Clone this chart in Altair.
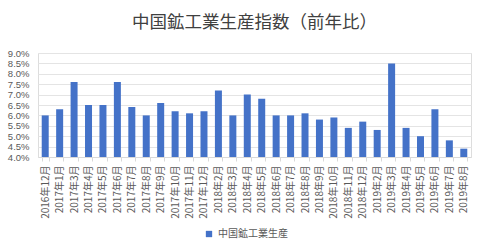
import altair as alt
import pandas as pd

months = ["2016年12月", "2017年1月", "2017年3月", "2017年4月", "2017年5月", "2017年6月",
          "2017年7月", "2017年8月", "2017年9月", "2017年10月", "2017年11月", "2017年12月",
          "2018年2月", "2018年3月", "2018年4月", "2018年5月", "2018年6月", "2018年7月",
          "2018年8月", "2018年9月", "2018年10月", "2018年11月", "2018年12月",
          "2019年2月", "2019年3月", "2019年4月", "2019年5月", "2019年6月", "2019年7月", "2019年8月"]
values = [6.0, 6.3, 7.6, 6.5, 6.5, 7.6, 6.4, 6.0, 6.6, 6.2, 6.1, 6.2,
          7.2, 6.0, 7.0, 6.8, 6.0, 6.0, 6.1, 5.8, 5.9, 5.4, 5.7,
          5.3, 8.5, 5.4, 5.0, 6.3, 4.8, 4.4]
series_name = "中国鉱工業生産"

df = pd.DataFrame({"month": months, "value": [v / 100 for v in values], "series": series_name})

font = "Noto Sans CJK JP"

chart = alt.Chart(df).mark_bar(size=7, clip=True).encode(
    x=alt.X("month:N", sort=months, title=None,
            scale=alt.Scale(paddingInner=0.5, paddingOuter=0.25),
            axis=alt.Axis(labelAngle=-90, labelFontSize=10, labelColor="#595959",
                          domainColor="#d9d9d9", tickColor="#d9d9d9", tickBand="extent",
                          tickSize=4, labelFont=font, labelPadding=4)),
    y=alt.Y("value:Q", title=None,
            scale=alt.Scale(domain=[0.04, 0.09], zero=False),
            axis=alt.Axis(format=".1%", values=[0.04 + 0.005 * i for i in range(11)],
                          labelFontSize=9.5, labelColor="#595959", labelFont="Liberation Sans",
                          domain=False, ticks=False, gridColor="#e4e4e4", labelPadding=9)),
    color=alt.Color("series:N", title=None,
                    scale=alt.Scale(range=["#4472c8"]),
                    legend=alt.Legend(orient="none", legendX=166, legendY=176,
                                      symbolType="square", symbolSize=40,
                                      labelFontSize=10, labelColor="#595959", labelFont=font)),
).properties(
    width=433, height=104,
    title=alt.TitleParams("中国鉱工業生産指数（前年比）", fontSize=17.5, color="#404040",
                          font=font, fontWeight="normal", offset=17),
).configure_view(stroke=None).configure(padding={"left": 7, "right": 5, "top": 13, "bottom": 5})

chart.save("out.html", embed_options={"renderer": "svg", "actions": False})
